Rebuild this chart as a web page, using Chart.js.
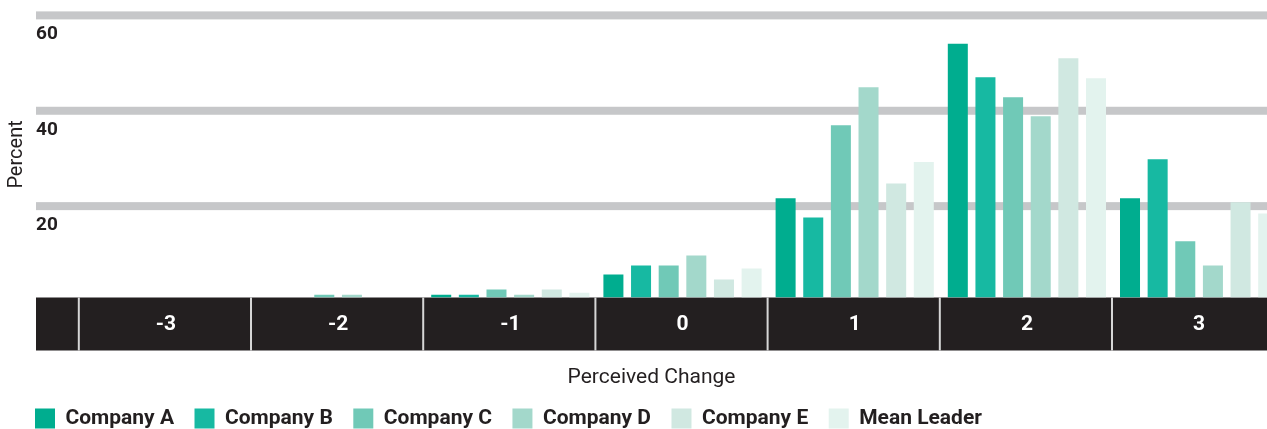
<!DOCTYPE html>
<html>
<head>
<meta charset="utf-8">
<script src="https://cdn.jsdelivr.net/npm/chart.js@4"></script>
<style>
  html, body { margin: 0; padding: 0; background: #fff; overflow: hidden; }
  #wrap { width: 1267px; height: 439px; position: relative; }
</style>
</head>
<body>
<div id="wrap"><canvas id="perceivedChart"></canvas></div>
<script>
// Perceived change distribution, one bar per company in each bucket
const categories = [-3, -2, -1, 0, 1, 2, 3];
const companyA   = [0, 0,   0.6, 4.8, 20.8, 53.2, 20.8];
const companyB   = [0, 0,   0.6, 6.7, 16.8, 46.2, 29.0];
const companyC   = [0, 0.6, 1.7, 6.7, 36.1, 42.0, 11.8];
const companyD   = [0, 0.6, 0.6, 8.8, 44.1, 38.0, 6.7];
const companyE   = [0, 0,   1.7, 3.8, 23.9, 50.2, 20.0];
const meanLeader = [0, 0,   1.0, 6.1, 28.4, 46.0, 17.6];
const yTicks = [0, 20, 40, 60];

const ink = '#231f20';
const font = 'Roboto, "DejaVu Sans", sans-serif';

// turn a list of values into {x, y} points on the category positions
const toPoints = (values) => values.map((v, i) => ({ x: categories[i], y: v }));

const series = [
    { label: 'Company A', data: companyA, color: '#00ad8f' },
    { label: 'Company B', data: companyB, color: '#17b9a2' },
    { label: 'Company C', data: companyC, color: '#70c9b7' },
    { label: 'Company D', data: companyD, color: '#a3d8cb' },
    { label: 'Company E', data: companyE, color: '#d0e8e1' },
    { label: 'Mean Leader', data: meanLeader, color: '#e3f3ee' }
];

// grey bands under each tick and the black axis strip with its dividers
const bandPlugin = {
    id: 'bands',
    beforeDraw(chart) {
        const { ctx, chartArea } = chart;
        const yScale = chart.scales.y;
        const xScale = chart.scales.x;
        ctx.save();
        ctx.fillStyle = '#c6c7c9';
        yScale.ticks.forEach(t => {
            if (t.value === 0) return;
            const y = yScale.getPixelForValue(t.value);
            ctx.fillRect(chartArea.left, y, chartArea.right - chartArea.left, 8);
        });
        ctx.fillStyle = ink;
        ctx.fillRect(chartArea.left, chartArea.bottom, chartArea.right - chartArea.left, 53);
        ctx.fillStyle = '#d6d6d6';
        const edges = categories.map(c => c - 0.5).concat([categories[categories.length - 1] + 0.5]);
        edges.forEach(e => {
            const x = xScale.getPixelForValue(e) - 2;
            if (x > chartArea.left && x < chartArea.right) {
                ctx.fillRect(x, chartArea.bottom, 2, 53);
            }
        });
        ctx.restore();
    }
};

const ctx = document.getElementById('perceivedChart').getContext('2d');
new Chart(ctx, {
    type: 'bar',
    data: {
        datasets: series.map(s => ({
            label: s.label,
            data: toPoints(s.data),
            backgroundColor: s.color,
            borderWidth: 0,
            barPercentage: 0.724,
            categoryPercentage: 0.963
        }))
    },
    plugins: [bandPlugin],
    options: {
        responsive: true,
        maintainAspectRatio: false,
        animation: false,
        layout: { padding: { top: 11, left: 14.5, right: 0, bottom: 0 } },
        plugins: {
            legend: {
                position: 'bottom',
                align: 'start',
                labels: {
                    boxWidth: 20,
                    boxHeight: 20,
                    padding: 20.5,
                    color: ink,
                    font: { family: font, size: 21, weight: 'bold' }
                }
            },
            tooltip: { enabled: false }
        },
        scales: {
            x: {
                type: 'linear',
                offset: false,
                min: -3.7544,
                max: 3.3943,
                grid: { display: false, drawTicks: false, offset: false },
                border: { display: false },
                ticks: {
                    stepSize: 1,
                    includeBounds: false,
                    autoSkip: false,
                    maxRotation: 0,
                    padding: 15,
                    color: '#ffffff',
                    font: { family: font, size: 21, weight: 'bold' },
                    callback: (v) => String(v)
                },
                title: {
                    display: true,
                    text: 'Perceived Change',
                    color: ink,
                    padding: { top: 0, bottom: -2.5 },
                    font: { family: font, size: 21 }
                },
                afterFit: (scale) => { scale.height = 90; }
            },
            y: {
                min: 0,
                max: 60,
                grid: { display: false, drawTicks: false },
                border: { display: false },
                afterBuildTicks: (scale) => { scale.ticks = yTicks.map(v => ({ value: v })); },
                ticks: {
                    mirror: true,
                    padding: 0,
                    labelOffset: 23,
                    color: ink,
                    font: { family: font, size: 19, weight: 'bold' },
                    callback: (v) => v === 0 ? '' : String(v)
                },
                title: {
                    display: true,
                    text: 'Percent',
                    color: ink,
                    padding: { top: -9.5, bottom: 0 },
                    font: { family: font, size: 20 }
                },
                afterFit: (scale) => { scale.width = 21.5; }
            }
        }
    }
});
</script>
</body>
</html>
